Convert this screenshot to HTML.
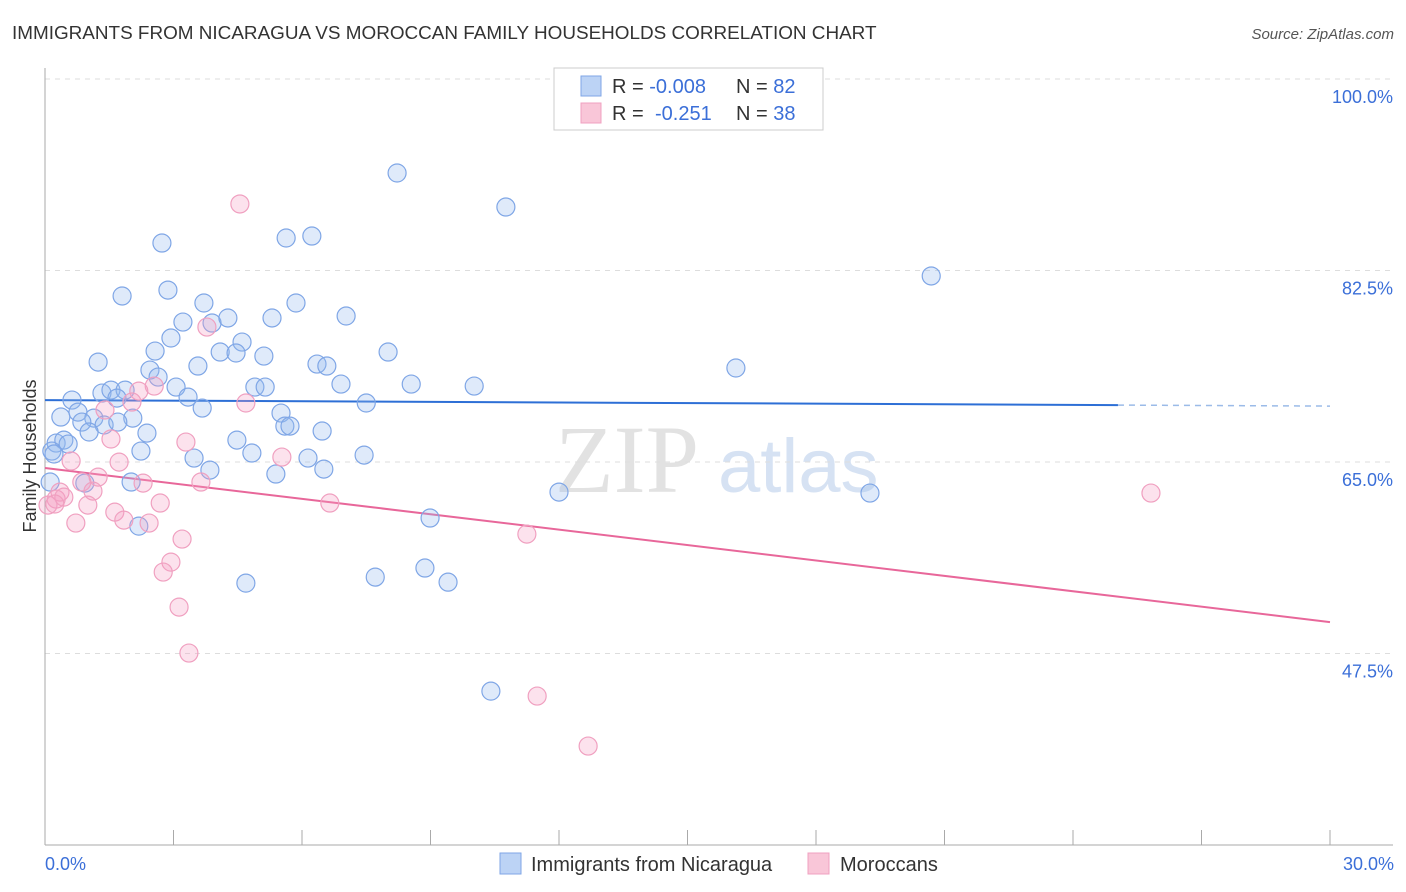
<!DOCTYPE html>
<html><head><meta charset="utf-8"><style>
body{margin:0;background:#fff;font-family:"Liberation Sans",sans-serif;}
svg{display:block}
</style></head><body>
<svg id="chart" width="1406" height="892" xmlns="http://www.w3.org/2000/svg">
<text x="12" y="39" font-size="18.9" fill="#333">IMMIGRANTS FROM NICARAGUA VS MOROCCAN FAMILY HOUSEHOLDS CORRELATION CHART</text>
<text x="1394" y="39" font-size="15" fill="#555" font-style="italic" text-anchor="end">Source: ZipAtlas.com</text>
<g>
<text x="555" y="492" font-size="96" fill="#e2e2e2" font-family="Liberation Serif,serif">ZIP</text>
<text x="718" y="492" font-size="76" fill="#d6e2f3">atlas</text>
</g>
<g id="grid"></g>
<g id="axes"></g>
<g id="trend"></g>
<g id="pts"></g>
<text x="36" y="456" font-size="18" fill="#333" text-anchor="middle" transform="rotate(-90 36 456)">Family Households</text>
<text x="45" y="870" font-size="18" fill="#3b6fd8">0.0%</text>
<text x="1394" y="870" font-size="18" fill="#3b6fd8" text-anchor="end">30.0%</text>
<g>
<rect x="554" y="68" width="269" height="62" fill="#fff" stroke="#ccc"/>
<rect x="581" y="76" width="20" height="20" fill="#bcd3f5" stroke="#7fa6e6"/>
<rect x="581" y="103" width="20" height="20" fill="#f9c6d8" stroke="#f0a0c0"/>
<text x="612" y="93" font-size="20" fill="#333">R = <tspan fill="#3b6fd8">-0.008</tspan><tspan x="736">N = </tspan><tspan fill="#3b6fd8">82</tspan></text>
<text x="612" y="120" font-size="20" fill="#333">R = <tspan x="655" fill="#3b6fd8">-0.251</tspan><tspan x="736">N = </tspan><tspan fill="#3b6fd8">38</tspan></text>
</g>
<g>
<rect x="500" y="853" width="21" height="21" fill="#bcd3f5" stroke="#7fa6e6"/>
<text x="531" y="871" font-size="20" fill="#333">Immigrants from Nicaragua</text>
<rect x="808" y="853" width="21" height="21" fill="#f9c6d8" stroke="#f0a0c0"/>
<text x="840" y="871" font-size="20" fill="#333">Moroccans</text>
</g>
</svg>
<script>
const yTicks=[100,82.5,65,47.5];
const yTickLabels=["100.0%","82.5%","65.0%","47.5%"];
const xTicks=[3,6,9,12,15,18,21,24,27,30];
const blueX=[8.22,10.76,2.73,5.63,6.23,20.69,1.80,2.87,3.71,5.86,3.22,3.90,4.27,5.30,7.03,2.94,4.60,2.57,4.09,4.46,5.11,8.01,1.24,3.57,6.35,6.58,2.45,2.64,16.13,3.06,6.91,8.55,10.02,4.90,5.14,1.33,1.54,1.87,1.68,3.34,0.63,3.67,7.50,0.37,0.77,1.14,2.05,5.51,0.86,1.38,1.70,1.03,2.38,5.60,5.72,6.47,0.26,0.44,0.54,4.48,2.24,4.83,3.48,6.14,7.45,3.85,5.39,6.51,0.16,0.12,0.93,2.01,12.00,19.26,8.99,2.19,4.69,7.71,8.87,9.41,10.41,0.21];
const blueY=[91.41,88.30,85.01,85.47,85.65,82.00,80.17,80.71,79.53,79.53,77.79,77.70,78.16,78.16,78.34,76.33,75.96,75.14,75.05,74.96,74.68,75.05,74.13,73.77,73.95,73.77,73.40,72.76,73.59,71.85,72.12,72.12,71.94,71.85,71.85,71.30,71.57,71.57,70.84,70.93,70.66,69.93,70.39,69.11,69.56,69.01,69.01,69.47,68.65,68.38,68.65,67.74,67.64,68.28,68.28,67.83,66.73,67.00,66.64,67.00,66.00,65.82,65.36,65.36,65.63,64.26,63.90,64.35,66.00,63.17,63.07,63.17,62.25,62.16,59.88,59.14,53.93,54.48,55.31,54.02,44.06,65.73];
const pinkX=[4.55,3.78,2.55,2.19,2.03,4.69,1.40,1.54,3.29,0.61,1.73,5.53,1.24,0.86,2.29,3.64,0.35,1.12,0.26,0.44,0.07,0.23,1.00,2.69,6.65,1.63,1.84,2.43,0.72,3.20,11.25,2.94,2.76,3.13,3.36,11.49,12.68,25.82];
const pinkY=[88.58,77.33,71.94,71.48,70.48,70.39,69.75,67.10,66.82,65.09,64.99,65.45,63.62,63.17,63.07,63.17,62.25,62.34,61.61,61.79,61.06,61.16,61.06,61.25,61.25,60.42,59.69,59.42,59.42,57.96,58.41,55.85,54.94,51.74,47.54,43.61,39.04,62.16];
const blueTrend=[70.66,70.2];
const pinkTrend=[64.45,50.37];
const NS="http://www.w3.org/2000/svg";
const xs=v=>45+v/30*1285;
const ys=v=>79+(100-v)*191.5/17.5;
function mk(parent,tag,attrs){const e=document.createElementNS(NS,tag);for(const k in attrs)e.setAttribute(k,attrs[k]);document.getElementById(parent).appendChild(e);return e;}
yTicks.forEach((t,i)=>{
 const l=mk('grid','line',{x1:45,x2:1393,y1:ys(t),y2:ys(t),stroke:'#ddd','stroke-dasharray':'5,5'});
 
 
 const tx=mk('grid','text',{x:1393,y:ys(t)+24,'font-size':18,fill:'#3b6fd8','text-anchor':'end'});
 tx.textContent=yTickLabels[i];
 
 
});
const ya=mk('axes','line',{x1:45,x2:45,y1:68,y2:845,stroke:'#aaa'});


const xa=mk('axes','line',{x1:45,x2:1393,y1:845,y2:845,stroke:'#aaa'});


xTicks.forEach(t=>{
 const l=mk('axes','line',{x1:xs(t),x2:xs(t),y1:830,y2:845,stroke:'#aaa'});
 
 
});
function pts(X,Y,fill,stroke,name){
 X.forEach((x,i)=>{
  const c=mk('pts','circle',{cx:xs(x),cy:ys(Y[i]),r:9,fill:fill,stroke:stroke,'stroke-width':1.2});
  
  
 });
}
pts(blueX,blueY,'rgba(150,185,240,0.3)','#7fa6e6','point-nicaragua');
pts(pinkX,pinkY,'rgba(245,160,195,0.3)','#f0a0c0','point-moroccans');
const bEnd=25.05;
const b1=mk('trend','line',{x1:xs(0),y1:ys(blueTrend[0]),x2:xs(bEnd),y2:ys(blueTrend[1]),stroke:'#2d6fd6','stroke-width':2});


const slope=(blueTrend[1]-blueTrend[0])/bEnd;
const b2=mk('trend','line',{x1:xs(bEnd),y1:ys(blueTrend[1]),x2:xs(30),y2:ys(blueTrend[0]+slope*30),stroke:'#9bbbe8','stroke-width':1.5,'stroke-dasharray':'6,5'});


const p1=mk('trend','line',{x1:xs(0),y1:ys(pinkTrend[0]),x2:xs(30),y2:ys(pinkTrend[1]),stroke:'#e8679a','stroke-width':2});


</script>
</body></html>
